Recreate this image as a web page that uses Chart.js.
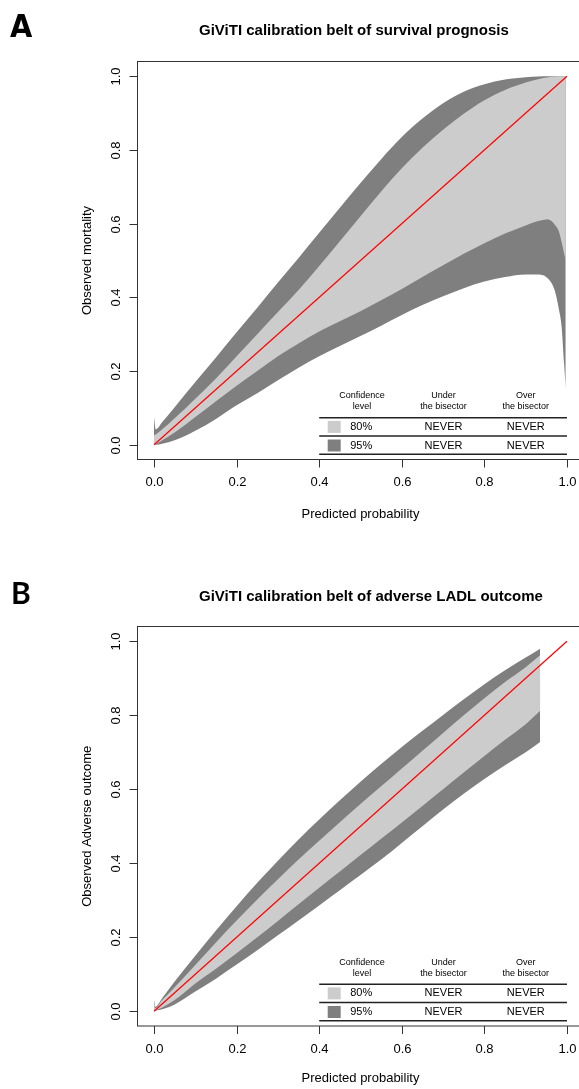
<!DOCTYPE html>
<html><head><meta charset="utf-8">
<script src="https://cdn.jsdelivr.net/npm/chart.js@4.4.1/dist/chart.umd.min.js"></script>
<style>
html,body{margin:0;padding:0;background:#fff;overflow:hidden;width:579px;height:1089px;}
canvas{position:absolute;left:0;}
#cA{top:0;} #cB{top:565px;}
</style></head><body>
<canvas id="cA" width="600" height="565"></canvas>
<canvas id="cB" width="600" height="524"></canvas>
<script>
// ---------- data ----------
const tickValues = [0, 0.2, 0.4, 0.6, 0.8, 1.0];
const tickLabels = ["0.0", "0.2", "0.4", "0.6", "0.8", "1.0"];

// Panel A: survival prognosis
const xA   = [0, 0.004, 0.02, 0.05, 0.1, 0.15, 0.2, 0.25, 0.3, 0.35, 0.4, 0.45, 0.5, 0.55, 0.6, 0.65, 0.7, 0.75, 0.8, 0.85, 0.9, 0.93, 0.955, 0.97, 0.98, 0.987, 0.993, 0.997];
const u95A = [0.075, 0.042, 0.062, 0.102, 0.17, 0.237, 0.305, 0.372, 0.44, 0.507, 0.575, 0.643, 0.71, 0.775, 0.835, 0.885, 0.927, 0.958, 0.978, 0.991, 0.997, 0.999, 1.0, 1.0, 1.0, 1.0, 1.0, 1.0];
const u80A = [0.025, 0.028, 0.042, 0.072, 0.125, 0.18, 0.24, 0.30, 0.36, 0.42, 0.485, 0.552, 0.62, 0.687, 0.75, 0.806, 0.855, 0.898, 0.935, 0.963, 0.983, 0.992, 0.997, 0.999, 1.0, 1.0, 1.0, 1.0];
const l80A = [0, 0.002, 0.012, 0.033, 0.075, 0.118, 0.16, 0.2, 0.24, 0.275, 0.307, 0.335, 0.362, 0.392, 0.423, 0.455, 0.487, 0.518, 0.547, 0.573, 0.595, 0.607, 0.611, 0.598, 0.58, 0.55, 0.52, 0.5];
const l95A = [0, 0, 0.003, 0.012, 0.038, 0.07, 0.107, 0.14, 0.175, 0.209, 0.24, 0.268, 0.295, 0.323, 0.352, 0.379, 0.403, 0.425, 0.443, 0.455, 0.462, 0.462, 0.45, 0.42, 0.37, 0.32, 0.22, 0.154];

// Panel B: adverse LADL outcome
const xB   = [0, 0.003, 0.02, 0.05, 0.1, 0.15, 0.2, 0.25, 0.3, 0.35, 0.4, 0.45, 0.5, 0.55, 0.6, 0.65, 0.7, 0.75, 0.8, 0.85, 0.9, 0.935];
const u95B = [0.03, 0.012, 0.036, 0.08, 0.15, 0.218, 0.284, 0.347, 0.407, 0.464, 0.518, 0.57, 0.62, 0.668, 0.714, 0.758, 0.801, 0.843, 0.884, 0.922, 0.956, 0.98];
const u80B = [0.03, 0.008, 0.03, 0.065, 0.125, 0.186, 0.245, 0.302, 0.357, 0.41, 0.461, 0.511, 0.56, 0.608, 0.656, 0.704, 0.752, 0.8, 0.846, 0.89, 0.93, 0.962];
const l80B = [0, 0.002, 0.01, 0.03, 0.075, 0.115, 0.157, 0.2, 0.244, 0.289, 0.334, 0.378, 0.422, 0.466, 0.51, 0.555, 0.6, 0.645, 0.69, 0.734, 0.776, 0.812];
const l95B = [0, 0.001, 0.005, 0.018, 0.053, 0.088, 0.126, 0.165, 0.205, 0.245, 0.286, 0.327, 0.368, 0.41, 0.455, 0.5, 0.545, 0.588, 0.628, 0.665, 0.7, 0.728];

const bisectorX = [0, 1];
const bisectorY = [0, 1];

const legendHeader = [["Confidence", "level"], ["Under", "the bisector"], ["Over", "the bisector"]];
const legendRows = [["80%", "NEVER", "NEVER"], ["95%", "NEVER", "NEVER"]];

const LIGHT = '#cccccc', DARK = '#7f7f7f';
const FONT = '"Liberation Sans", Arial, Helvetica, sans-serif';

function xy(xs, ys) { return xs.map((x, i) => ({x: x, y: ys[i]})); }

const framePlugin = {
  id: 'rframe',
  afterDraw(chart, args, o) {
    const ctx = chart.ctx;
    const ca = chart.chartArea;
    const sx = chart.scales.x, sy = chart.scales.y;
    ctx.save();
    ctx.strokeStyle = '#333';
    ctx.lineWidth = 1;
    ctx.strokeRect(ca.left, ca.top, ca.right - ca.left, ca.bottom - ca.top);
    ctx.fillStyle = '#000';
    ctx.font = '13px ' + FONT;
    ctx.textAlign = 'center';
    ctx.textBaseline = 'middle';
    tickValues.forEach((v, i) => {
      const px = Math.round(sx.getPixelForValue(v)) + 0.5;
      ctx.beginPath(); ctx.moveTo(px, ca.bottom); ctx.lineTo(px, ca.bottom + 8); ctx.stroke();
      ctx.fillText(tickLabels[i], px, ca.bottom + 23);
      const py = Math.round(sy.getPixelForValue(v)) + 0.5;
      ctx.beginPath(); ctx.moveTo(ca.left - 8, py); ctx.lineTo(ca.left, py); ctx.stroke();
      ctx.save(); ctx.translate(ca.left - 21, py); ctx.rotate(-Math.PI / 2);
      ctx.fillText(tickLabels[i], 0, 0); ctx.restore();
    });
    // axis titles
    ctx.fillText('Predicted probability', (ca.left + ca.right) / 2, ca.bottom + o.xTitleOff);
    ctx.save(); ctx.translate(87, (ca.top + ca.bottom) / 2); ctx.rotate(-Math.PI / 2);
    ctx.fillText(o.yTitle, 0, 0); ctx.restore();
    // main title
    ctx.font = 'bold 15px ' + FONT;
    ctx.textAlign = 'left';
    ctx.fillText(o.title, 199, o.titleY);
    // panel letter
    ctx.font = o.letterFont;
    ctx.textBaseline = 'alphabetic';
    ctx.fillText(o.letter, o.letterX, o.letterY);
    // legend table
    const L = sx.getPixelForValue(0.4), R = sx.getPixelForValue(1.0);
    const b = ca.bottom;
    const cols = [o.colConf, o.colUnder, o.colOver];
    ctx.textBaseline = 'middle';
    ctx.textAlign = 'center';
    ctx.font = '9px ' + FONT;
    legendHeader.forEach((h, i) => {
      ctx.fillText(h[0], cols[i], b - 63.5);
      ctx.fillText(h[1], cols[i], b - 52.5);
    });
    ctx.strokeStyle = '#222';
    ctx.lineWidth = 1.4;
    [b - 41.8, b - 23.5, b - 5.2].forEach(yy => {
      ctx.beginPath(); ctx.moveTo(L, yy); ctx.lineTo(R, yy); ctx.stroke();
    });
    ctx.font = '11px ' + FONT;
    legendRows.forEach((r, i) => {
      const yc = b - 32.6 + i * 18.6;
      ctx.fillStyle = i === 0 ? LIGHT : DARK;
      ctx.fillRect(L + 8.5, yc - 6, 13, 12);
      ctx.fillStyle = '#000';
      ctx.textAlign = 'left';
      ctx.fillText(r[0], L + 31, yc);
      ctx.textAlign = 'center';
      ctx.fillText(r[1], cols[1], yc);
      ctx.fillText(r[2], cols[2], yc);
    });
    ctx.restore();
  }
};

function makeChart(id, xs, u95, u80, l80, l95, pad, opts) {
  const band = (data, fill, color, order) => ({
    data: xy(xs, data), borderWidth: 0, borderColor: 'rgba(0,0,0,0)', pointRadius: 0,
    backgroundColor: color, fill: fill, order: order, cubicInterpolationMode: 'monotone'
  });
  return new Chart(document.getElementById(id), {
    type: 'line',
    data: {
      datasets: [
        band(u95, {target: 3}, DARK, 2),
        band(u80, {target: 2}, LIGHT, 1),
        band(l80, false, 'rgba(0,0,0,0)', 3),
        band(l95, false, 'rgba(0,0,0,0)', 3),
        { data: xy(bisectorX, bisectorY), borderColor: '#ff0000', borderWidth: 1.2, pointRadius: 0, fill: false, order: 0 }
      ]
    },
    options: {
      responsive: false, animation: false, events: [],
      layout: { padding: pad },
      scales: {
        x: { type: 'linear', min: -0.04, max: 1.04, display: false },
        y: { type: 'linear', min: -0.04, max: 1.04, display: false }
      },
      plugins: { legend: { display: false }, tooltip: { enabled: false }, rframe: opts }
    },
    plugins: [framePlugin]
  });
}

makeChart('cA', xA, u95A, u80A, l80A, l95A,
  { left: 137.5, right: 16.5, top: 61.5, bottom: 105.5 },
  { title: 'GiViTI calibration belt of survival prognosis', titleY: 31, yTitle: 'Observed mortality', xTitleOff: 55,
    letter: 'A', letterX: 10, letterY: 37, letterFont: 'bold 32px "Liberation Sans Narrow", "DejaVu Sans Condensed", sans-serif',
    colConf: 362, colUnder: 443.5, colOver: 525.8 });

makeChart('cB', xB, u95B, u80B, l80B, l95B,
  { left: 137.5, right: 16.5, top: 61.5, bottom: 63 },
  { title: 'GiViTI calibration belt of adverse LADL outcome', titleY: 32, yTitle: 'Observed Adverse outcome', xTitleOff: 52,
    letter: 'B', letterX: 11, letterY: 39, letterFont: 'bold 30px Lato, "Open Sans", sans-serif',
    colConf: 362, colUnder: 443.5, colOver: 525.8 });
</script>
</body></html>
